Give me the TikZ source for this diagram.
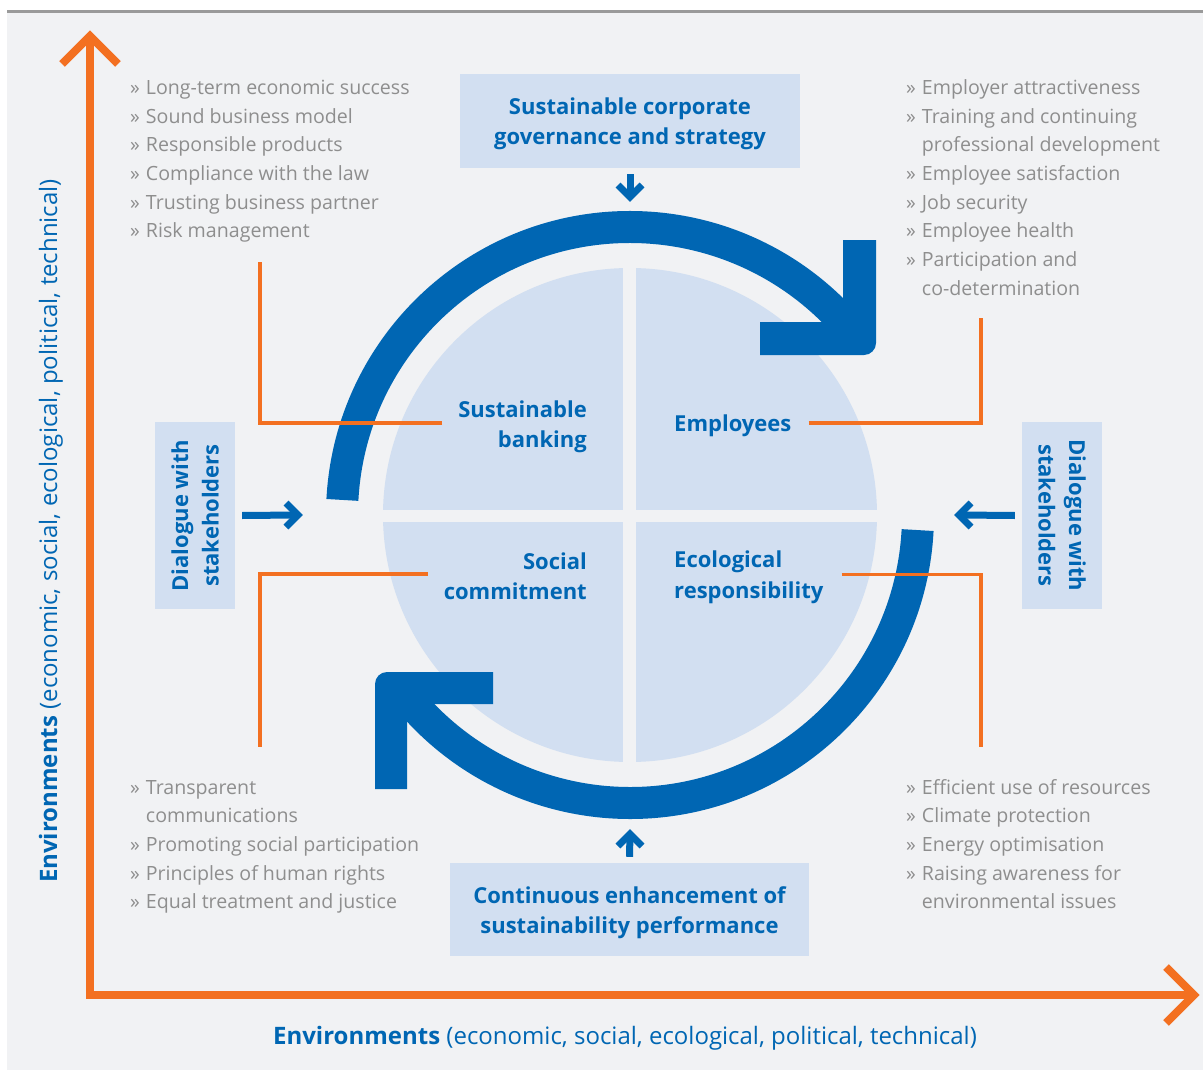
\documentclass[tikz,border=0pt]{standalone}
\usepackage{fontspec}
\setmainfont{Open Sans}
\usetikzlibrary{calc}

\definecolor{axisorange}{HTML}{F37021}
\definecolor{corpblue}{HTML}{0066B3}
\definecolor{paleblue}{HTML}{D2DFF1}
\definecolor{panelgray}{HTML}{F1F2F4}
\definecolor{listgray}{HTML}{8E8E8E}
\definecolor{rulegray}{HTML}{9A9A9A}

\newcommand{\listfont}{\fontsize{19.6}{28.7}\selectfont}
\newcommand{\headfont}{\fontsize{22}{30.5}\selectfont\bfseries}

\tikzset{
  panelbox/.style={fill=paleblue, text=corpblue, font=\headfont, align=center, inner sep=0pt},
  boxtext/.style={text=corpblue, font=\headfont, align=center, inner sep=0pt},
  quadlabel/.style={text=corpblue, font=\headfont, inner sep=0pt},
  itemlist/.style={text=listgray, font=\listfont, inner sep=0pt, anchor=base west},
  axisline/.style={draw=axisorange, line width=8pt, line join=miter},
  leader/.style={draw=axisorange, line width=3.5pt},
  cyclearc/.style={draw=corpblue, line width=32pt},
  feedarrow/.style={draw=corpblue, line width=7pt, line join=miter},
  axislabel/.style={text=corpblue, font=\fontsize{24}{28}\selectfont, inner sep=0pt},
}

\begin{document}
\begin{tikzpicture}[x=1pt, y=-1pt]
\useasboundingbox (0,0) rectangle (1203,1070);

% page panel and top rule
\fill[panelgray] (7,13) rectangle (1203,1070);
\draw[rulegray, line width=3pt] (7,11.5) -- (1203,11.5);

% central disc split into four quadrants
\coordinate (c) at (630,515);
\fill[paleblue] (c) circle[radius=247];
\draw[panelgray, line width=13pt] (629.5,262) -- (629.5,770);
\draw[panelgray, line width=12pt] (377,516) -- (883,516);

% circular cycle arrows
\draw[cyclearc] ($(c)+(183:288)$) arc[start angle=183, end angle=320, radius=288];
\draw[cyclearc] ($(c)+(3:288)$) arc[start angle=3, end angle=140, radius=288];
\fill[corpblue] (843,240) -- (876,240) -- (876,343)
  arc[start angle=0, end angle=90, radius=12] -- (760,355) -- (760,322) -- (843,322) -- cycle;
\fill[corpblue] (407,789) -- (375,789) -- (375,684)
  arc[start angle=180, end angle=270, radius=12] -- (493,672) -- (493,704) -- (407,704) -- cycle;

% axes
\coordinate (origin) at (90,995);
\coordinate (ytip) at (90,36);
\coordinate (xtip) at (1194,995);
\draw[axisline] (ytip) -- (origin) -- (xtip);
\draw[axisline] ($(ytip)+(-28,28)$) -- (ytip) -- ($(ytip)+(28,28)$);
\draw[axisline] ($(xtip)+(-28,-28)$) -- (xtip) -- ($(xtip)+(-28,28)$);

\node[axislabel, rotate=90] (yaxislabel) at (51,531)
  {\textbf{Environments} (economic, social, ecological, political, technical)};
\node[axislabel] (xaxislabel) at (625,1038)
  {\textbf{Environments} (economic, social, ecological, political, technical)};

% boxes
\node[panelbox, minimum width=340, minimum height=94] (gov) at (630,121) {};
\node[boxtext] (govtext) at ($(gov.center)+(0,3)$)
  {Sustainable corporate\\governance and strategy};
\node[panelbox, minimum width=359, minimum height=93] (perf) at (629.5,909.5) {};
\node[boxtext] (perftext) at ($(perf.center)+(0,3)$)
  {Continuous enhancement of\\sustainability performance};
\node[panelbox, rotate=90, minimum width=187, minimum height=80] (dialL) at (195,515.5)
  {Dialogue with\\stakeholders};
\node[panelbox, rotate=-90, minimum width=187, minimum height=80] (dialR) at (1062,515.5)
  {Dialogue with\\stakeholders};

% small feed arrows
\coordinate (govtip) at (630,197);
\coordinate (perftip) at (630,834);
\coordinate (lefttip) at (298,515);
\coordinate (righttip) at (959,515);
\draw[feedarrow] ($(gov.south)+(0,6)$) -- (govtip);
\draw[feedarrow] ($(govtip)+(-12,-12)$) -- (govtip) -- ($(govtip)+(12,-12)$);
\draw[feedarrow] ($(perf.north)+(0,-6)$) -- (perftip);
\draw[feedarrow] ($(perftip)+(-12,12)$) -- (perftip) -- ($(perftip)+(12,12)$);
\draw[feedarrow] ($(dialL.south)+(7,0)$) -- (lefttip);
\draw[feedarrow] ($(lefttip)+(-12,-12)$) -- (lefttip) -- ($(lefttip)+(-12,12)$);
\draw[feedarrow] ($(dialR.south)+(-7,0)$) -- (righttip);
\draw[feedarrow] ($(righttip)+(12,-12)$) -- (righttip) -- ($(righttip)+(12,12)$);

% quadrant labels
\node[quadlabel, align=right, anchor=east] (banking) at (587,427) {Sustainable\\banking};
\node[quadlabel, anchor=west] (employees) at (674,426) {Employees};
\node[quadlabel, align=right, anchor=east] (social) at (587,576) {Social\\commitment};
\node[quadlabel, align=left, anchor=west] (ecological) at (674,577.5) {Ecological\\responsibility};

% bullet lists
\node[itemlist] (listTL) at (130,94.5) {\begin{tabular}[t]{@{}l@{\hspace{6pt}}l@{}}
» & Long-term economic success\\
» & Sound business model\\
» & Responsible products\\
» & Compliance with the law\\
» & Trusting business partner\\
» & Risk management
\end{tabular}};
\node[itemlist] (listTR) at (906,94.5) {\begin{tabular}[t]{@{}l@{\hspace{6pt}}l@{}}
» & Employer attractiveness\\
» & Training and continuing\\
  & professional development\\
» & Employee satisfaction\\
» & Job security\\
» & Employee health\\
» & Participation and\\
  & co-determination
\end{tabular}};
\node[itemlist] (listBL) at (130,794) {\begin{tabular}[t]{@{}l@{\hspace{6pt}}l@{}}
» & Transparent\\
  & communications\\
» & Promoting social participation\\
» & Principles of human rights\\
» & Equal treatment and justice
\end{tabular}};
\node[itemlist] (listBR) at (906,794) {\begin{tabular}[t]{@{}l@{\hspace{6pt}}l@{}}
» & Efficient use of resources\\
» & Climate protection\\
» & Energy optimisation\\
» & Raising awareness for\\
  & environmental issues
\end{tabular}};

% leader lines from the quadrants to their lists
\coordinate (tlend) at (260,262);
\coordinate (trend) at (981,318);
\coordinate (blend) at (260,747);
\coordinate (brend) at (981,747);
\draw[leader] ([xshift=-16pt, yshift=4pt]banking.west) -| (tlend);
\draw[leader] ([xshift=17pt, yshift=3pt]employees.east) -| (trend);
\draw[leader] ([xshift=-16pt, yshift=2pt]social.west) -| (blend);
\draw[leader] ([xshift=18pt, yshift=3pt]ecological.east) -| (brend);
\end{tikzpicture}
\end{document}
